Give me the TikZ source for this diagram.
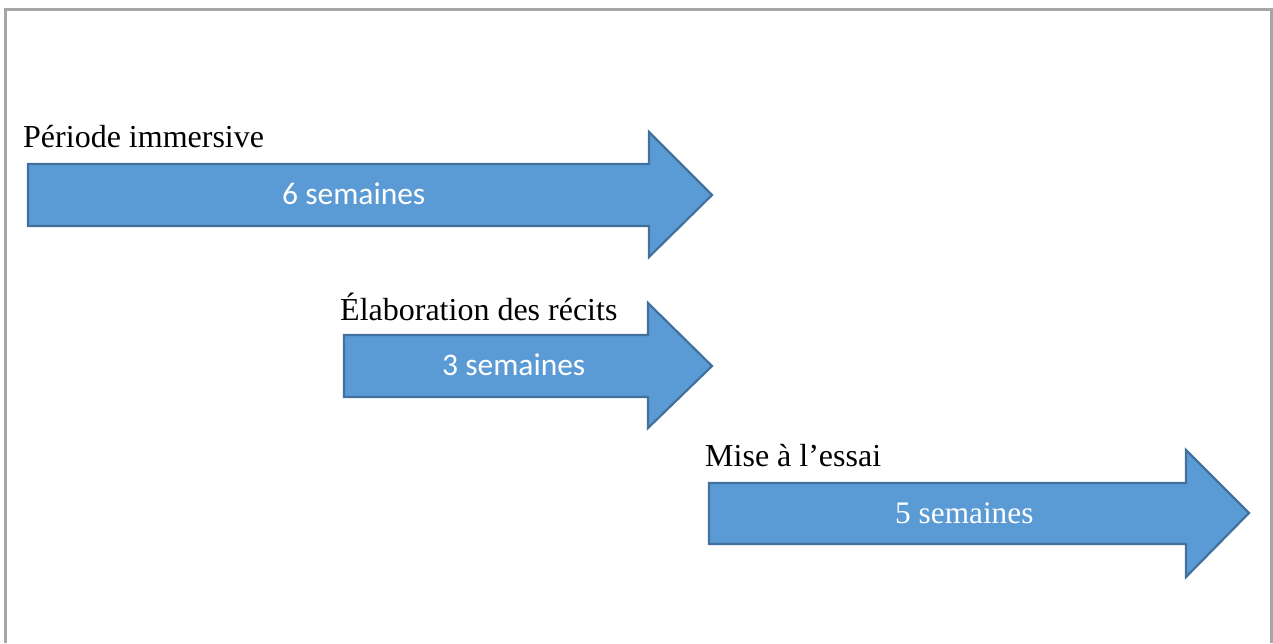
\documentclass[tikz,border=0pt]{standalone}
\usepackage{fontspec}
\setmainfont{Liberation Serif}
\newfontfamily\calibri{Carlito}
\newfontfamily\timesfont{Liberation Serif}
\begin{document}
\begin{tikzpicture}[x=1pt,y=-1pt,
  phase/.style={fill={rgb,255:red,91;green,155;blue,213},draw={rgb,255:red,65;green,113;blue,156},line width=2.2pt,line join=miter},
  lbl/.style={anchor=base west,inner sep=0pt,font=\timesfont\fontsize{32}{38}\selectfont},
  dur/.style={anchor=base west,inner sep=0pt,text=white,font=\calibri\fontsize{31.5}{38}\selectfont},
  durserif/.style={anchor=base west,inner sep=0pt,text=white,font=\timesfont\fontsize{31.3}{38}\selectfont},
  frame/.style={draw={rgb,255:red,166;green,166;blue,166},line width=3pt}]
\useasboundingbox (0,0) rectangle (1273,643);
\fill[white] (0,0) rectangle (1273,643);
% frame (open at the bottom)
\draw[frame] (5,643) -- (5,9) -- (1271,9) -- (1271,643);
% arrow 1
\draw[phase] (28,164) -- (649,164) -- (649,132) -- (712,195) -- (649,257) -- (649,226) -- (28,226) -- cycle;
% arrow 2
\draw[phase] (344,335) -- (648,335) -- (648,303) -- (712,366) -- (648,428) -- (648,397) -- (344,397) -- cycle;
% arrow 3
\draw[phase] (709,483) -- (1186,483) -- (1186,450) -- (1249,513) -- (1186,577) -- (1186,544) -- (709,544) -- cycle;
% labels
\node[lbl] (l1) at (23,147) {Période immersive};
\node[lbl] (l2) at (340,320) {Élaboration des récits};
\node[lbl] (l3) at (705,466) {Mise à l’essai};
\node[dur] (d1) at (282,204) {6 semaines};
\node[dur] (d2) at (442,375) {3 semaines};
\node[durserif] (d3) at (895,523) {5 semaines};
\end{tikzpicture}
\end{document}
